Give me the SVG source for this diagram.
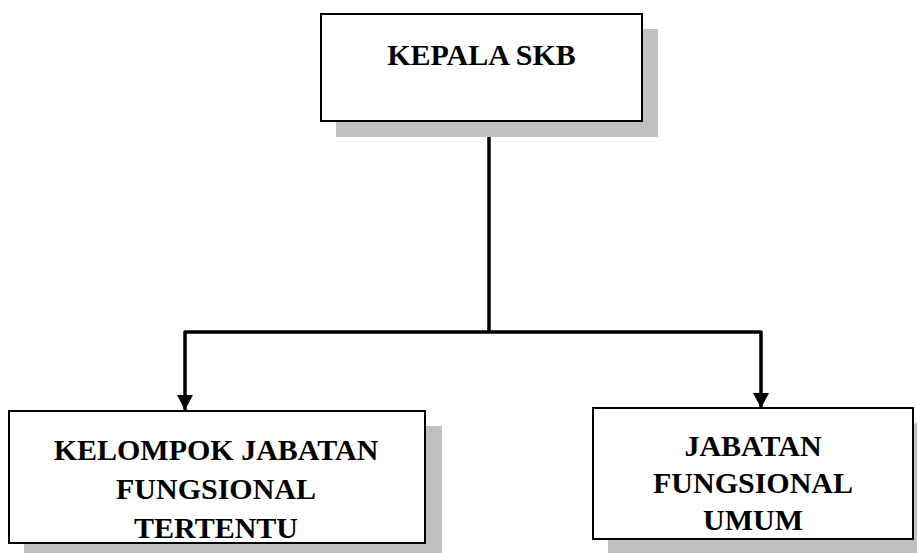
<svg xmlns="http://www.w3.org/2000/svg" width="917" height="553" viewBox="0 0 917 553">
<style>
.shadow{fill:#c0c0c0;stroke:none}
.box{fill:#ffffff;stroke:#000000;stroke-width:2}
.lbl{font-family:"Liberation Serif","Times New Roman",serif;font-weight:bold;font-size:30px;fill:#000000;text-anchor:middle}
.conn{fill:none;stroke:#000000;stroke-width:3.5;stroke-linejoin:round}
</style>
<defs>
<marker id="arr" markerUnits="userSpaceOnUse" markerWidth="17" markerHeight="17" refX="15" refY="8" orient="auto">
<path d="M0,0 L15,8 L0,16 Z" fill="#000000"/>
</marker>
</defs>
<rect width="917" height="553" fill="#ffffff"/>
<g id="connectors">
<path class="conn" d="M489,121 V332"/>
<path class="conn" d="M489,332 H185 V410" marker-end="url(#arr)"/>
<path class="conn" d="M489,332 H761 V408" marker-end="url(#arr)"/>
</g>
<g id="kepala">
<rect class="shadow" x="336" y="29" width="322" height="108"/>
<rect class="box" x="321" y="14" width="321" height="107"/>
<text class="lbl" x="481.5" y="65">KEPALA SKB</text>
</g>
<g id="kelompok">
<rect class="shadow" x="24" y="426" width="418" height="130"/>
<rect class="box" x="9" y="411" width="416" height="132"/>
<text class="lbl" x="216" y="460">KELOMPOK JABATAN</text>
<text class="lbl" x="216" y="499">FUNGSIONAL</text>
<text class="lbl" x="216" y="538">TERTENTU</text>
</g>
<g id="umum">
<rect class="shadow" x="608" y="423" width="320" height="130"/>
<rect class="box" x="593" y="408" width="320" height="131"/>
<text class="lbl" x="753" y="456">JABATAN</text>
<text class="lbl" x="753" y="493">FUNGSIONAL</text>
<text class="lbl" x="753" y="530">UMUM</text>
</g>
</svg>
